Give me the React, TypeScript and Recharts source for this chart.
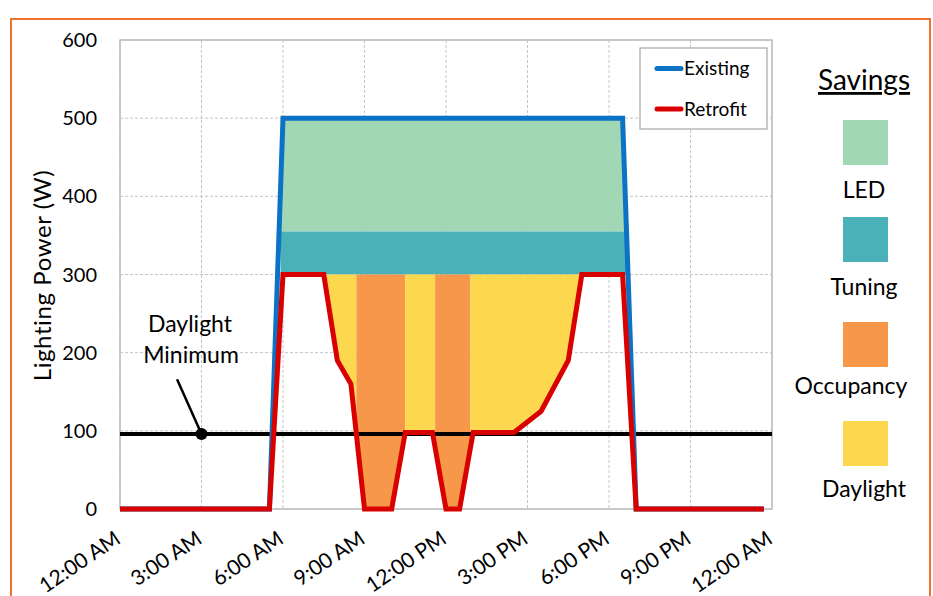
import { ComposedChart, Area, Line, XAxis, YAxis, CartesianGrid, ReferenceLine, ReferenceDot } from 'recharts'

const FONT = 'Lato, "Open Sans", sans-serif'

const timeTicks = [0, 3, 6, 9, 12, 15, 18, 21, 24]
const timeLabels = ['12:00 AM', '3:00 AM', '6:00 AM', '9:00 AM', '12:00 PM', '3:00 PM', '6:00 PM', '9:00 PM', '12:00 AM']
const powerTicks = [0, 100, 200, 300, 400, 500, 600]

// lighting power profiles (hours since midnight -> watts)
const existingHours = [0, 5.5, 6, 18.5, 19, 23.7]
const existingW = [0, 0, 500, 500, 0, 0]
const retrofitHours = [0, 5.5, 6, 7.5, 8, 8.5, 9, 10, 10.5, 11.5, 12, 12.5, 13, 14.5, 15.5, 16.5, 17, 18.5, 19, 23.7]
const retrofitW = [0, 0, 300, 300, 190, 160, 0, 0, 98, 98, 0, 0, 98, 98, 125, 190, 300, 300, 0, 0]
const minimumHours = [0, 24]
const minimumW = [96, 96]

// savings bands, floor / top in watts
const tunedW = 300
const ledHours = [5.92, 18.5, 18.66]
const ledFloor = [355, 355, 355]
const ledTop = [500, 500, 355]
const tuningHours = [5.92, 18.66, 18.72]
const tuningFloor = [300, 300, 300]
const tuningTop = [355, 355, 300]
const occupancyAHours = [8.7, 9, 10, 10.5]
const occupancyAFloor = [95, 0, 0, 98]
const occupancyBHours = [11.6, 12, 12.5, 12.9]
const occupancyBFloor = [80, 0, 0, 80]
const daylightAHours = [7.5, 8, 8.5, 8.7]
const daylightAFloor = [300, 190, 160, 95]
const daylightBHours = [10.5, 11.5, 11.6]
const daylightBFloor = [98, 98, 80]
const daylightCHours = [12.9, 13, 14.5, 15.5, 16.5, 17]
const daylightCFloor = [80, 98, 98, 125, 190, 300]

const COLORS = {
  existing: '#0B72C6',
  retrofit: '#D90000',
  led: '#A2D7B6',
  tuning: '#4AB1B9',
  occupancy: '#F7974A',
  daylight: '#FDD84E',
}

type Value = number | [number, number] | null
type Series = { key: string; hours: number[]; values: Value[] }

const band = (floor: number[], top: number[]) => floor.map((f, i) => [f, top[i]] as [number, number])
const toTuned = (floor: number[]) => floor.map((f) => [f, tunedW] as [number, number])

const series: Series[] = [
  { key: 'existing', hours: existingHours, values: existingW },
  { key: 'retrofit', hours: retrofitHours, values: retrofitW },
  { key: 'minimum', hours: minimumHours, values: minimumW },
  { key: 'led', hours: ledHours, values: band(ledFloor, ledTop) },
  { key: 'tuning', hours: tuningHours, values: band(tuningFloor, tuningTop) },
  { key: 'occA', hours: occupancyAHours, values: toTuned(occupancyAFloor) },
  { key: 'occB', hours: occupancyBHours, values: toTuned(occupancyBFloor) },
  { key: 'dayA', hours: daylightAHours, values: toTuned(daylightAFloor) },
  { key: 'dayB', hours: daylightBHours, values: toTuned(daylightBFloor) },
  { key: 'dayC', hours: daylightCHours, values: toTuned(daylightCFloor) },
]

const allHours = Array.from(new Set(series.flatMap((s) => s.hours))).sort((a, b) => a - b)
const rows = allHours.map((h) => {
  const row: Record<string, Value> = { h }
  series.forEach((s) => {
    const i = s.hours.indexOf(h)
    row[s.key] = i >= 0 ? s.values[i] : null
  })
  return row
})

function TimeTick({ x, y, payload }: any) {
  const i = timeTicks.indexOf(payload.value)
  const tx = x + 2
  const ty = y + 31
  return (
    <text x={tx} y={ty} textAnchor="end" transform={`rotate(-34 ${tx} ${ty})`} fontSize={21} fill="#000" fontFamily={FONT}>
      {timeLabels[i]}
    </text>
  )
}

const savings = [
  { name: 'LED', color: COLORS.led, top: 120, base: 198, cx: 864 },
  { name: 'Tuning', color: COLORS.tuning, top: 217, base: 295, cx: 864 },
  { name: 'Occupancy', color: COLORS.occupancy, top: 322, base: 394, cx: 851 },
  { name: 'Daylight', color: COLORS.daylight, top: 421, base: 497, cx: 864 },
]

export default function App() {
  const area = (key: string, fill: string) => (
    <Area
      key={key}
      type="linear"
      dataKey={key}
      fill={fill}
      fillOpacity={1}
      stroke="none"
      connectNulls
      dot={false}
      activeDot={false}
      isAnimationActive={false}
    />
  )
  return (
    <div style={{ position: 'absolute', left: 0, top: 0, width: 933, height: 596, overflow: 'hidden', background: '#fff', fontFamily: FONT }}>
      <svg width={933} height={596} style={{ position: 'absolute', left: 0, top: 0 }}>
        <rect x={11} y={19} width={919} height={620} fill="none" stroke="#EE7330" strokeWidth={2} />
        <rect x={120} y={40} width={652} height={469} fill="none" stroke="#A6A6A6" strokeWidth={1.2} />
      </svg>
      <div style={{ position: 'absolute', left: 0, top: 0 }}>
        <ComposedChart width={933} height={596} data={rows} margin={{ top: 40, right: 161, bottom: 27, left: 60 }}>
          <CartesianGrid stroke="#C4C4C4" strokeDasharray="3 2" />
          <XAxis
            type="number"
            dataKey="h"
            domain={[0, 24]}
            ticks={timeTicks}
            interval={0}
            tick={<TimeTick />}
            tickLine={false}
            axisLine={false}
            tickSize={0}
            height={60}
            allowDataOverflow
          />
          <YAxis
            type="number"
            domain={[0, 600]}
            ticks={powerTicks}
            interval={0}
            width={60}
            tickLine={false}
            axisLine={false}
            tickSize={0}
            tickMargin={23}
            tick={{ fill: '#000', fontSize: 20, fontFamily: FONT }}
          />
          {area('led', COLORS.led)}
          {area('tuning', COLORS.tuning)}
          {area('dayA', COLORS.daylight)}
          {area('occA', COLORS.occupancy)}
          {area('dayB', COLORS.daylight)}
          {area('occB', COLORS.occupancy)}
          {area('dayC', COLORS.daylight)}
          <Line type="linear" dataKey="minimum" stroke="#000" strokeWidth={4} dot={false} activeDot={false} connectNulls isAnimationActive={false} />
          <Line type="linear" dataKey="existing" stroke={COLORS.existing} strokeWidth={5} dot={false} activeDot={false} connectNulls isAnimationActive={false} />
          <Line type="linear" dataKey="retrofit" stroke={COLORS.retrofit} strokeWidth={5} dot={false} activeDot={false} connectNulls isAnimationActive={false} />
          <ReferenceLine segment={[{ x: 2.1, y: 166 }, { x: 3, y: 96 }]} stroke="#000" strokeWidth={2.5} />
          <ReferenceDot x={3} y={96} r={6} fill="#000" stroke="none" />
        </ComposedChart>
      </div>
      <svg width={933} height={596} style={{ position: 'absolute', left: 0, top: 0, pointerEvents: 'none' }} fontFamily={FONT}>
        <text transform="translate(51,275.5) rotate(-90)" textAnchor="middle" fontSize={24} letterSpacing={0.6} fill="#000">
          Lighting Power (W)
        </text>
        <text x={190} y={332} textAnchor="middle" fontSize={23} fill="#000">Daylight</text>
        <text x={191} y={363} textAnchor="middle" fontSize={23} fill="#000">Minimum</text>

        <rect x={640} y={48} width={127} height={81} fill="#fff" stroke="#A6A6A6" strokeWidth={1.2} />
        <line x1={657} y1={68.5} x2={681} y2={68.5} stroke={COLORS.existing} strokeWidth={5} strokeLinecap="round" />
        <text x={684} y={75} fontSize={19} fill="#000">Existing</text>
        <line x1={657} y1={109} x2={681} y2={109} stroke={COLORS.retrofit} strokeWidth={5} strokeLinecap="round" />
        <text x={684} y={115.5} fontSize={19} fill="#000">Retrofit</text>

        <text x={864} y={90} textAnchor="middle" fontSize={28} fill="#000" style={{ textDecoration: 'underline' }}>Savings</text>
        {savings.map((s) => (
          <g key={s.name}>
            <rect x={843} y={s.top} width={45} height={45} fill={s.color} />
            <text x={s.cx} y={s.base} textAnchor="middle" fontSize={23} fill="#000">{s.name}</text>
          </g>
        ))}
      </svg>
    </div>
  )
}
